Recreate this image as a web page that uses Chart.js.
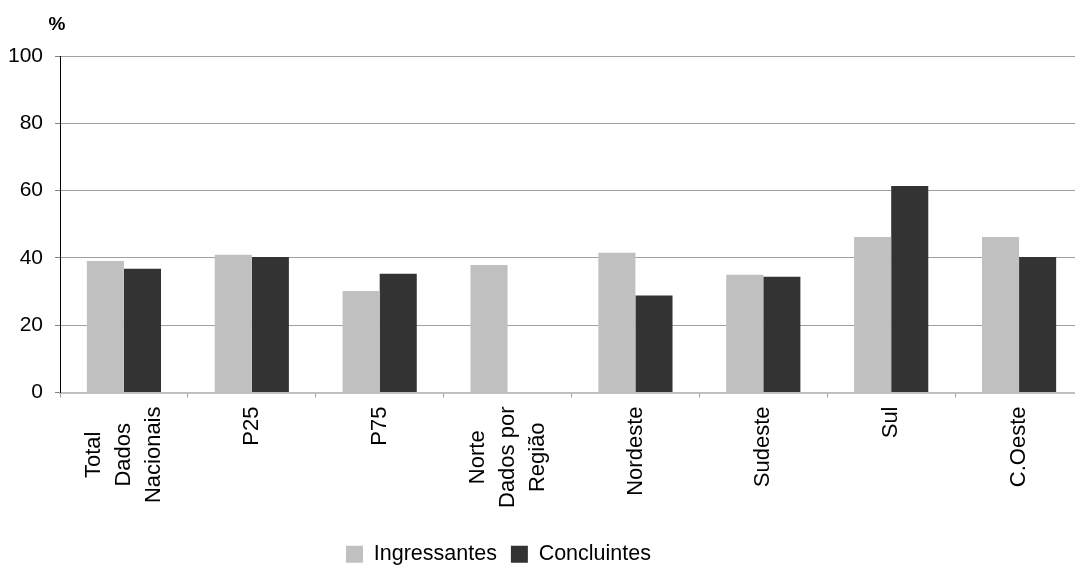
<!DOCTYPE html>
<html><head><meta charset="utf-8">
<script src="https://cdn.jsdelivr.net/npm/chart.js@4.4.1/dist/chart.umd.min.js"></script>
<style>html,body{margin:0;padding:0;overflow:hidden;background:#fff}canvas{display:block}</style>
</head><body>
<canvas id="c" width="1083" height="566"></canvas>
<script>
const categories = [['Total','Dados','Nacionais'],['P25'],['P75'],['Norte','Dados por','Região'],['Nordeste'],['Sudeste'],['Sul'],['C.Oeste']];
const seriesNames = ['Ingressantes','Concluintes'];
const ingressantes = [39.1, 40.9, 30.2, 37.9, 41.5, 35.0, 46.2, 46.2];
const concluintes = [36.8, 40.3, 35.3, null, 28.8, 34.4, 61.4, 40.3];
const yTicks = [0, 20, 40, 60, 80, 100];
const yAxisTitle = '%';

const FONT = '"Liberation Sans", Arial, sans-serif';

const customPlugin = {
  id: 'custom',
  afterLayout(chart) {
    const lg = chart.legend;
    if (lg) { lg.left -= 43; lg.right -= 43; lg.top += 9; lg.bottom += 9; }
  },
  afterDraw(chart) {
    const ctx = chart.ctx;
    const xs = chart.scales.x, ys = chart.scales.y;
    ctx.save();
    ctx.fillStyle = '#000';
    ctx.font = '22px ' + FONT;
    categories.forEach((lines, i) => {
      const cx = xs.getPixelForValue(i);
      const maxW = Math.max(...lines.map(l => ctx.measureText(l).width));
      const yc = xs.top + 14 + maxW / 2;
      lines.forEach((l, j) => {
        ctx.save();
        ctx.translate(cx + (j - (lines.length - 1) / 2) * 30, yc);
        ctx.rotate(-Math.PI / 2);
        ctx.textAlign = 'center';
        ctx.textBaseline = 'middle';
        ctx.fillText(l, 0, 0);
        ctx.restore();
      });
    });
    ctx.font = 'bold 19px ' + FONT;
    ctx.textAlign = 'center';
    ctx.textBaseline = 'alphabetic';
    ctx.fillText(yAxisTitle, ys.right - 3, 30);
    ctx.restore();
  }
};

new Chart(document.getElementById('c'), {
  type: 'bar',
  data: {
    labels: categories,
    datasets: [
      { label: seriesNames[0], data: ingressantes, backgroundColor: '#c0c0c0', borderWidth: 0 },
      { label: seriesNames[1], data: concluintes, backgroundColor: '#333333', borderWidth: 0 }
    ]
  },
  options: {
    responsive: false,
    animation: false,
    devicePixelRatio: 1,
    layout: { padding: { top: 56, left: 0, right: 0, bottom: 0 } },
    datasets: { bar: { categoryPercentage: 0.58, barPercentage: 1.0 } },
    scales: {
      x: {
        grid: { display: true, drawOnChartArea: false, drawTicks: true, tickLength: 5, tickColor: '#a0a0a0', offset: true },
        border: { display: true, color: '#c0c0c0', width: 2 },
        ticks: { display: false },
        afterFit(s) { s.height = 128; }
      },
      y: {
        min: 0, max: 100,
        afterBuildTicks(s) { s.ticks = yTicks.map(v => ({ value: v })); },
        grid: { color: '#a0a0a0', lineWidth: 1, drawTicks: true, tickLength: 5, tickColor: '#808080' },
        border: { display: true, color: '#000', width: 1 },
        ticks: { color: '#000', font: { family: FONT, size: 21 }, padding: 12 },
        afterFit(s) { s.width = 60; }
      }
    },
    plugins: {
      legend: {
        display: true,
        position: 'bottom',
        labels: { color: '#000', font: { family: FONT, size: 21.5 }, boxWidth: 17, boxHeight: 17, padding: 14 }
      },
      tooltip: { enabled: false }
    }
  },
  plugins: [customPlugin]
});
</script>
</body></html>
